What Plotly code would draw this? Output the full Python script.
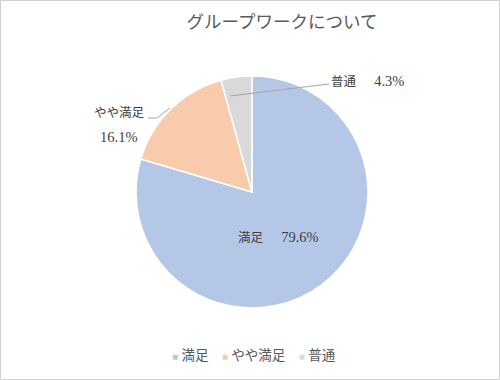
import plotly.graph_objects as go

categories = ["満足", "やや満足", "普通"]
values = [79.6, 16.1, 4.3]
colors = ["#B4C7E7", "#F8CBAD", "#D9D9D9"]
title_text = "グループワークについて"

W, H = 500, 380
FONT = "Liberation Serif, Noto Sans CJK JP, serif"
TXT = "#595959"
LBL = "#404040"


def px(x):
    return x / W


def py(y):
    return 1 - y / H


def jp(s):
    return f'<span style="font-size:12.5px">{s}</span>'


fig = go.Figure()
fig.add_trace(go.Pie(
    labels=categories,
    values=values,
    sort=False,
    direction="clockwise",
    rotation=0,
    marker=dict(colors=colors, line=dict(color="white", width=1.5)),
    textinfo="none",
    hoverinfo="label+percent",
    domain=dict(x=[px(252 - 116), px(252 + 116)], y=[py(308), py(76)]),
    showlegend=False,
))

lab_font = dict(family=FONT, size=14.5, color=LBL)
# data labels
fig.add_annotation(x=px(278), y=py(237), xref="paper", yref="paper",
                   xanchor="center", yanchor="middle",
                   text=f"{jp(categories[0])}　 {values[0]:.1f}%", showarrow=False, font=lab_font)
fig.add_annotation(x=px(147), y=py(113), xref="paper", yref="paper",
                   xanchor="right", yanchor="middle",
                   text=jp(categories[1]), showarrow=False, font=lab_font)
fig.add_annotation(x=px(118), y=py(137), xref="paper", yref="paper",
                   xanchor="center", yanchor="middle",
                   text=f"{values[1]:.1f}%", showarrow=False, font=lab_font)
fig.add_annotation(x=px(329), y=py(81), xref="paper", yref="paper",
                   xanchor="left", yanchor="middle",
                   text=f"{jp(categories[2])}　 {values[2]:.1f}%", showarrow=False, font=lab_font)

# leader lines
fig.add_shape(type="path", xref="paper", yref="paper",
              path=f"M {px(148)} {py(118)} L {px(157)} {py(118)} L {px(170)} {py(108)}",
              line=dict(color="#A6A6A6", width=1))
fig.add_shape(type="line", xref="paper", yref="paper",
              x0=px(329), y0=py(84), x1=px(230), y1=py(96),
              line=dict(color="#A6A6A6", width=1))

# legend (compact, Excel-like)
legend_text = "　".join(
    f'<span style="color:{c};font-size:10px">■</span> {cat}'
    for cat, c in zip(categories, colors)
)
fig.add_annotation(x=px(254), y=py(355), xref="paper", yref="paper",
                   xanchor="center", yanchor="middle",
                   text=legend_text, showarrow=False,
                   font=dict(family=FONT, size=13.5, color=TXT))

# outer border
fig.add_shape(type="rect", xref="paper", yref="paper",
              x0=px(0.5), y0=py(379.5), x1=px(499.5), y1=py(0.5),
              line=dict(color="#D0D0D0", width=1))

fig.update_layout(
    width=W, height=H,
    margin=dict(l=0, r=0, t=0, b=0),
    paper_bgcolor="white",
    plot_bgcolor="white",
    showlegend=False,
    title=dict(text=title_text, x=px(282), xanchor="center", y=py(22), yanchor="middle",
               font=dict(family=FONT, size=17.5, color=TXT)),
)

fig.write_html("out.html", config={"displayModeBar": False},
               post_script="document.body.style.margin='0';document.body.style.overflow='hidden';")
